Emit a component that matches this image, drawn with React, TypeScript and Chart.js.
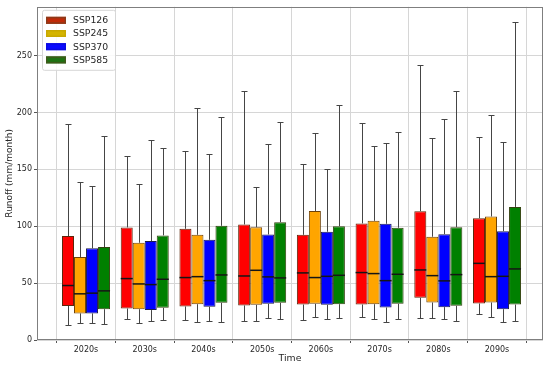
import React, { useEffect, useRef } from 'react';
import { Chart, registerables } from 'chart.js';

Chart.register(...registerables);

const decades = ['2020s', '2030s', '2040s', '2050s', '2060s', '2070s', '2080s', '2090s'];
const seriesNames = ['SSP126', 'SSP245', 'SSP370', 'SSP585'];
const yTickValues = [0, 50, 100, 150, 200, 250];

// per decade: [whisker low, Q1, median, Q3, whisker high]
const ssp126 = [
  [13.1, 30.0, 47.9, 91.4, 190.0],
  [18.1, 27.7, 54.0, 99.0, 161.7],
  [17.5, 29.5, 54.9, 97.8, 165.8],
  [16.6, 30.4, 56.3, 101.6, 218.6],
  [17.2, 31.2, 59.0, 92.5, 154.7],
  [20.4, 31.2, 59.3, 102.5, 190.6],
  [19.0, 37.1, 61.6, 113.3, 241.7],
  [22.5, 32.1, 67.4, 107.1, 178.3],
];
const ssp245 = [
  [15.2, 23.4, 40.6, 73.0, 138.6],
  [14.6, 27.1, 49.3, 85.5, 137.5],
  [15.5, 31.5, 55.7, 92.5, 203.7],
  [16.6, 30.9, 61.3, 99.2, 134.6],
  [19.8, 31.8, 54.9, 113.5, 181.6],
  [18.1, 31.5, 58.4, 104.8, 170.5],
  [19.0, 33.0, 56.6, 90.8, 177.8],
  [20.4, 33.0, 55.7, 108.6, 197.6],
];
const ssp370 = [
  [14.6, 23.4, 41.2, 80.6, 135.7],
  [16.9, 26.3, 48.7, 87.0, 176.0],
  [16.6, 29.2, 52.2, 88.1, 163.5],
  [19.6, 31.8, 55.5, 92.8, 172.5],
  [18.1, 30.9, 56.0, 95.2, 150.3],
  [15.8, 28.6, 52.2, 102.2, 172.8],
  [18.1, 28.9, 52.0, 93.1, 194.4],
  [15.5, 27.1, 56.0, 95.7, 174.0],
];
const ssp585 = [
  [14.0, 27.1, 43.2, 81.7, 179.0],
  [17.5, 28.3, 53.4, 92.0, 168.4],
  [15.5, 32.7, 57.2, 100.4, 196.4],
  [18.7, 32.7, 54.6, 103.6, 192.0],
  [19.0, 31.5, 56.9, 100.1, 206.4],
  [18.4, 31.8, 57.8, 98.7, 182.7],
  [16.3, 30.1, 57.5, 99.2, 218.9],
  [16.9, 31.2, 62.5, 117.0, 279.6],
];

const allSeries = [ssp126, ssp245, ssp370, ssp585];
const boxColors = ['#ff0000', '#ffa500', '#0000ff', '#008000'];
const edgeColors = ['#5e260a', '#6e4208', '#1c1c50', '#33420f'];
const legendFill = ['#c02a08', '#d4b400', '#0a0aff', '#1f7212'];
const legendEdge = ['#8b3a1a', '#c8a800', '#0a0ae0', '#3f5a1a'];

const FONT = "'DejaVu Sans', sans-serif";
const TEXT = '#262626';

const boxPlugin = {
  id: 'boxWhiskers',
  afterDatasetsDraw(chart: any) {
    const ctx = chart.ctx;
    const y = chart.scales.y;
    allSeries.forEach((s, d) => {
      const meta = chart.getDatasetMeta(d);
      meta.data.forEach((el: any, j: number) => {
        const [mn, q1, md, q3, mx] = s[j];
        const x = Math.round(el.x) + 0.5;
        const w = el.width;
        ctx.save();
        ctx.strokeStyle = '#454545';
        ctx.lineWidth = 1;
        ctx.beginPath();
        const yq3 = y.getPixelForValue(q3);
        const yq1 = y.getPixelForValue(q1);
        const ymx = Math.round(y.getPixelForValue(mx)) + 0.5;
        const ymn = Math.round(y.getPixelForValue(mn)) + 0.5;
        ctx.moveTo(x, yq3);
        ctx.lineTo(x, ymx);
        ctx.moveTo(x, yq1);
        ctx.lineTo(x, ymn);
        ctx.moveTo(x - w / 4, ymx);
        ctx.lineTo(x + w / 4, ymx);
        ctx.moveTo(x - w / 4, ymn);
        ctx.lineTo(x + w / 4, ymn);
        ctx.stroke();
        ctx.strokeStyle = '#151515';
        ctx.lineWidth = 1.5;
        ctx.beginPath();
        const ymd = y.getPixelForValue(md);
        ctx.moveTo(el.x - w / 2, ymd);
        ctx.lineTo(el.x + w / 2, ymd);
        ctx.stroke();
        ctx.restore();
      });
    });
  },
  afterDraw(chart: any) {
    const ctx = chart.ctx;
    const a = chart.chartArea;
    ctx.save();
    // frame
    ctx.strokeStyle = '#7f7f7f';
    ctx.lineWidth = 1;
    ctx.strokeRect(Math.round(a.left) + 0.5, Math.round(a.top) + 0.5, Math.round(a.right - a.left) - 1, Math.round(a.bottom - a.top) - 1);
    // legend
    const lx = a.left + 5;
    const ly = a.top + 3;
    const lw = 73;
    const lh = 60;
    ctx.fillStyle = 'rgba(255,255,255,0.85)';
    ctx.strokeStyle = '#d6d6d6';
    ctx.beginPath();
    ctx.roundRect(lx + 0.5, ly + 0.5, lw, lh, 2);
    ctx.fill();
    ctx.stroke();
    ctx.font = `9.3px ${FONT}`;
    ctx.textBaseline = 'middle';
    ctx.textAlign = 'left';
    seriesNames.forEach((name, i) => {
      const cy = ly + 10.5 + i * 13.2;
      ctx.fillStyle = legendFill[i];
      ctx.fillRect(lx + 4, cy - 3.5, 20, 7);
      ctx.strokeStyle = legendEdge[i];
      ctx.lineWidth = 1.5;
      ctx.strokeRect(lx + 4.75, cy - 2.75, 18.5, 5.5);
      ctx.fillStyle = TEXT;
      ctx.fillText(name, lx + 31, cy + 0.5);
    });
    ctx.restore();
  },
};

export default function App() {
  const ref = useRef<HTMLCanvasElement | null>(null);
  useEffect(() => {
    if (!ref.current) return;
    const chart = new Chart(ref.current, {
      type: 'bar',
      data: {
        datasets: seriesNames.map((name, d) => ({
          label: name,
          data: allSeries[d].map((v, i) => ({ x: i, y: [v[1], v[3]] })),
          backgroundColor: boxColors[d],
          borderColor: edgeColors[d],
          borderWidth: 1,
          borderSkipped: false,
          categoryPercentage: 0.818,
          barPercentage: 1.0,
        })),
      },
      options: {
        responsive: false,
        animation: false,
        layout: { padding: { top: 5, right: 7, left: 0, bottom: 0 } },
        plugins: { legend: { display: false }, tooltip: { enabled: false } },
        scales: {
          x: {
            type: 'linear',
            min: -0.835,
            max: 7.783,
            offset: false,
            afterBuildTicks: (s: any) => {
              s.ticks = decades.map((_, i) => ({ value: i }));
            },
            afterFit: (s: any) => {
              s.height = 26;
            },
            ticks: {
              callback: (v: any) => decades[Math.round(Number(v))] ?? '',
              font: { family: FONT, size: 8 },
              color: TEXT,
              padding: 2,
              maxRotation: 0,
              autoSkip: false,
            },
            grid: { color: '#d6d6d6', lineWidth: 1, tickLength: 3, tickColor: '#555' },
            border: { display: false },
            title: {
              display: true,
              text: 'Time',
              font: { family: FONT, size: 9.3 },
              color: TEXT,
              padding: { top: 0, bottom: 2 },
            },
          },
          y: {
            type: 'linear',
            min: 0,
            max: 293,
            afterBuildTicks: (s: any) => {
              s.ticks = yTickValues.map((v) => ({ value: v }));
            },
            afterFit: (s: any) => {
              s.width = 37;
            },
            ticks: {
              font: { family: FONT, size: 8 },
              color: TEXT,
              padding: 2,
            },
            grid: { color: '#d6d6d6', lineWidth: 1, tickLength: 3, tickColor: '#555' },
            border: { display: false },
            title: {
              display: true,
              text: 'Runoff (mm/month)',
              font: { family: FONT, size: 9 },
              color: TEXT,
              padding: { top: 4, bottom: 0 },
            },
          },
        },
      },
      plugins: [boxPlugin],
    } as any);
    return () => chart.destroy();
  }, []);
  return (
    <div style={{ position: 'absolute', left: 0, top: 0, width: 550, height: 366, background: '#fff' }}>
      <canvas ref={ref} width={550} height={366} />
    </div>
  );
}
